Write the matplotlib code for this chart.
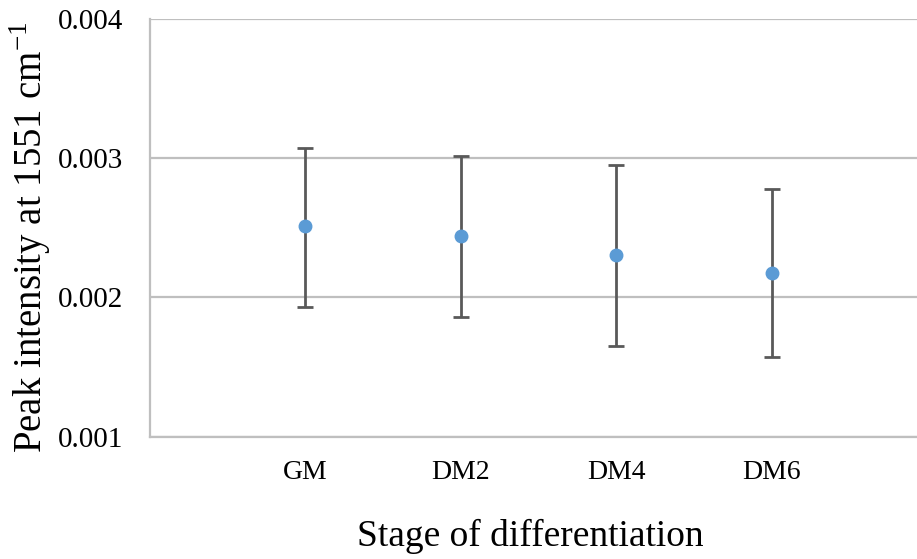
import numpy as np
import matplotlib
matplotlib.use('Agg')
import matplotlib.pyplot as plt

plt.rcParams['font.family'] = ['Liberation Serif', 'DejaVu Serif']
plt.rcParams['mathtext.fontset'] = 'custom'
plt.rcParams['mathtext.rm'] = 'Liberation Serif'

# data
stages = ['GM', 'DM2', 'DM4', 'DM6']
peak = [0.002512, 0.002443, 0.002303, 0.002175]
err_hi = [0.003073, 0.003016, 0.002954, 0.002782]
err_lo = [0.001935, 0.001859, 0.001649, 0.001570]
yticks = [0.001, 0.002, 0.003, 0.004]

x = np.arange(1, len(stages) + 1)
peak = np.array(peak)
yerr = [peak - np.array(err_lo), np.array(err_hi) - peak]

fig = plt.figure(figsize=(9.17, 5.59), dpi=100)
ax = fig.add_axes([0.1634, 0.2188, 1 - 0.1634, 0.7472])

ax.errorbar(x, peak, yerr=yerr, fmt='none', ecolor='#595959',
            elinewidth=2, capsize=5.5, capthick=2, zorder=3)
ax.plot(x, peak, 'o', color='#5B9BD5', markersize=9, zorder=4)

ax.set_xlim(0, 4.934)
ax.set_ylim(0.001, 0.004)
ax.set_yticks(yticks)
ax.set_yticklabels(['%.3f' % v for v in yticks], fontsize=21)
ax.set_xticks(x)
ax.set_xticklabels(stages, fontsize=20)
ax.tick_params(axis='both', length=0, colors='black')
ax.tick_params(axis='y', pad=19)
ax.tick_params(axis='x', pad=17)

ax.grid(axis='y', color='#BFBFBF', linewidth=1.6)
ax.set_axisbelow(True)
for s in ['top', 'right']:
    ax.spines[s].set_visible(False)
for s in ['left', 'bottom']:
    ax.spines[s].set_color('#BFBFBF')
    ax.spines[s].set_linewidth(1.6)

fig.text(530 / 917, 1 - 536 / 559, 'Stage of differentiation',
         fontsize=27, ha='center', va='center')
fig.text(30 / 917, 1 - 237 / 559, 'Peak intensity at 1551 cm$^{\\mathrm{-1}}$',
         fontsize=28, rotation=90, ha='center', va='center')

fig.savefig('out.png', dpi=100)
